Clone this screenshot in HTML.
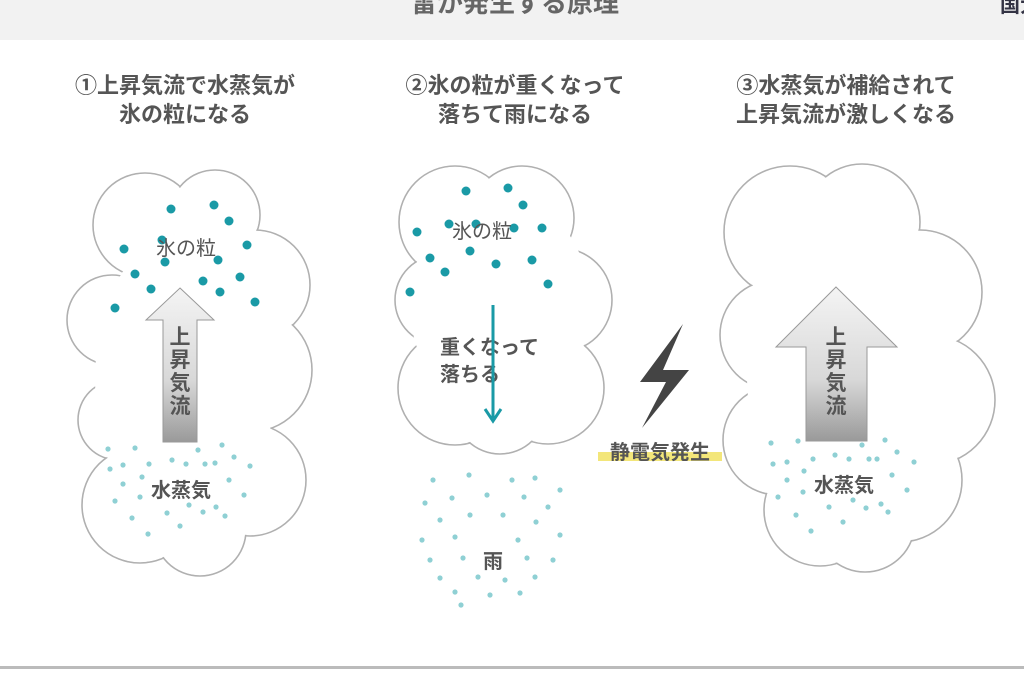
<!DOCTYPE html>
<html><head><meta charset="utf-8"><style>
html,body{margin:0;padding:0;background:#fff;}
body{width:1024px;height:687px;overflow:hidden;position:relative;font-family:"Liberation Sans","Noto Sans CJK JP",sans-serif;}
</style></head><body>
<svg width="1024" height="687" viewBox="0 0 1024 687" xmlns="http://www.w3.org/2000/svg" style="font-family:'Liberation Sans','Noto Sans CJK JP',sans-serif">
<defs>
<linearGradient id="g" x1="0" y1="0" x2="0" y2="1"><stop offset="0" stop-color="#f4f4f4"/><stop offset="0.6" stop-color="#d8d8d8"/><stop offset="1" stop-color="#9a9a9a"/></linearGradient>
</defs>
<rect x="0" y="0" width="1024" height="40" fill="#f2f2f2"/>
<text x="515" y="12" text-anchor="middle" font-size="26" font-weight="bold" fill="#666">雷が発生する原理</text>
<text x="1000" y="12" font-size="20" fill="#334" font-weight="bold">国大</text>
<rect x="0" y="666" width="1024" height="3" fill="#bbb"/>

<g font-size="22" font-weight="bold" fill="#555" text-anchor="middle">
<text x="185" y="93">①上昇気流で水蒸気が</text><text x="185" y="122">氷の粒になる</text>
<text x="515" y="93">②氷の粒が重くなって</text><text x="515" y="122">落ちて雨になる</text>
<text x="846" y="93">③水蒸気が補給されて</text><text x="846" y="122">上昇気流が激しくなる</text>
</g>

<!-- cloud1 -->
<g stroke="#b0b0b0" stroke-width="1.6" fill="#fff">
<circle cx="145" cy="225" r="52"/><circle cx="215" cy="215" r="45"/><circle cx="255" cy="285" r="55"/><circle cx="112" cy="320" r="45"/><circle cx="250" cy="370" r="62"/><circle cx="118" cy="420" r="40"/><circle cx="250" cy="480" r="56"/><circle cx="140" cy="505" r="58"/><circle cx="200" cy="530" r="46"/>
</g>
<g fill="#fff">
<circle cx="145" cy="225" r="51"/><circle cx="215" cy="215" r="44"/><circle cx="255" cy="285" r="54"/><circle cx="112" cy="320" r="44"/><circle cx="250" cy="370" r="61"/><circle cx="118" cy="420" r="39"/><circle cx="250" cy="480" r="55"/><circle cx="140" cy="505" r="57"/><circle cx="200" cy="530" r="45"/>
<ellipse cx="185" cy="380" rx="90" ry="150"/>
</g>
<!-- cloud2 -->
<g stroke="#b0b0b0" stroke-width="1.6" fill="#fff">
<circle cx="455" cy="222" r="56"/><circle cx="522" cy="218" r="52"/><circle cx="560" cy="300" r="52"/><circle cx="440" cy="300" r="45"/><circle cx="455" cy="388" r="57"/><circle cx="548" cy="388" r="56"/><circle cx="500" cy="408" r="46"/>
</g>
<g fill="#fff">
<circle cx="455" cy="222" r="55"/><circle cx="522" cy="218" r="51"/><circle cx="560" cy="300" r="51"/><circle cx="440" cy="300" r="44"/><circle cx="455" cy="388" r="56"/><circle cx="548" cy="388" r="55"/><circle cx="500" cy="408" r="45"/>
<ellipse cx="500" cy="305" rx="90" ry="110"/>
</g>
<!-- cloud3 -->
<g stroke="#b0b0b0" stroke-width="1.6" fill="#fff">
<circle cx="790" cy="232" r="66"/><circle cx="862" cy="222" r="58"/><circle cx="920" cy="292" r="62"/><circle cx="775" cy="335" r="55"/><circle cx="930" cy="400" r="65"/><circle cx="778" cy="440" r="55"/><circle cx="900" cy="480" r="62"/><circle cx="820" cy="510" r="56"/><circle cx="865" cy="522" r="50"/>
</g>
<g fill="#fff">
<circle cx="790" cy="232" r="65"/><circle cx="862" cy="222" r="57"/><circle cx="920" cy="292" r="61"/><circle cx="775" cy="335" r="54"/><circle cx="930" cy="400" r="64"/><circle cx="778" cy="440" r="54"/><circle cx="900" cy="480" r="61"/><circle cx="820" cy="510" r="55"/><circle cx="865" cy="522" r="49"/>
<ellipse cx="852" cy="375" rx="105" ry="160"/>
</g>

<!-- arrows -->
<polygon points="180,288 214,320 197,320 197,442 163,442 163,320 146,320" fill="url(#g)" stroke="#999" stroke-width="1"/>
<polygon points="836,287 897,347 867,347 867,441 806,441 806,347 776,347" fill="url(#g)" stroke="#999" stroke-width="1"/>
<g font-size="21" font-weight="bold" fill="#555" text-anchor="middle">
<text x="180" y="344">上</text><text x="180" y="367">昇</text><text x="180" y="390">気</text><text x="180" y="413">流</text>
<text x="836" y="344">上</text><text x="836" y="367">昇</text><text x="836" y="390">気</text><text x="836" y="413">流</text>
</g>

<!-- ice dots -->
<g fill="#1a9aa6">
<circle cx="171" cy="209" r="4.5"/><circle cx="214" cy="205" r="4.5"/><circle cx="229" cy="221" r="4.5"/><circle cx="124" cy="249" r="4.5"/><circle cx="247" cy="245" r="4.5"/><circle cx="162" cy="240" r="4.5"/><circle cx="165" cy="262" r="4.5"/><circle cx="218" cy="260" r="4.5"/><circle cx="135" cy="274" r="4.5"/><circle cx="151" cy="289" r="4.5"/><circle cx="203" cy="281" r="4.5"/><circle cx="240" cy="277" r="4.5"/><circle cx="115" cy="308" r="4.5"/><circle cx="255" cy="302" r="4.5"/><circle cx="220" cy="292" r="4.5"/>
<circle cx="466" cy="191" r="4.5"/><circle cx="508" cy="188" r="4.5"/><circle cx="523" cy="205" r="4.5"/><circle cx="417" cy="232" r="4.5"/><circle cx="449" cy="224" r="4.5"/><circle cx="476" cy="224" r="4.5"/><circle cx="514" cy="228" r="4.5"/><circle cx="542" cy="228" r="4.5"/><circle cx="430" cy="258" r="4.5"/><circle cx="470" cy="251" r="4.5"/><circle cx="496" cy="264" r="4.5"/><circle cx="532" cy="260" r="4.5"/><circle cx="445" cy="272" r="4.5"/><circle cx="548" cy="284" r="4.5"/><circle cx="410" cy="292" r="4.5"/>
</g>
<g font-size="20" fill="#555" text-anchor="middle">
<text x="186" y="255">氷の粒</text><text x="482" y="238">氷の粒</text>
</g>

<!-- vapor dots -->
<g fill="#8fd0d4">
<circle cx="108" cy="449" r="2.6"/><circle cx="135" cy="448" r="2.6"/><circle cx="198" cy="450" r="2.6"/><circle cx="222" cy="445" r="2.6"/><circle cx="234" cy="457" r="2.6"/><circle cx="110" cy="469" r="2.6"/><circle cx="123" cy="465" r="2.6"/><circle cx="149" cy="464" r="2.6"/><circle cx="172" cy="460" r="2.6"/><circle cx="186" cy="464" r="2.6"/><circle cx="205" cy="464" r="2.6"/><circle cx="215" cy="463" r="2.6"/><circle cx="250" cy="466" r="2.6"/><circle cx="142" cy="477" r="2.6"/><circle cx="123" cy="484" r="2.6"/><circle cx="229" cy="480" r="2.6"/><circle cx="115" cy="501" r="2.6"/><circle cx="140" cy="497" r="2.6"/><circle cx="244" cy="495" r="2.6"/><circle cx="216" cy="507" r="2.6"/><circle cx="189" cy="505" r="2.6"/><circle cx="167" cy="513" r="2.6"/><circle cx="203" cy="512" r="2.6"/><circle cx="225" cy="516" r="2.6"/><circle cx="132" cy="518" r="2.6"/><circle cx="180" cy="526" r="2.6"/><circle cx="148" cy="534" r="2.6"/>
<circle cx="771" cy="443" r="2.6"/><circle cx="798" cy="441" r="2.6"/><circle cx="862" cy="445" r="2.6"/><circle cx="885" cy="440" r="2.6"/><circle cx="897" cy="452" r="2.6"/><circle cx="773" cy="464" r="2.6"/><circle cx="787" cy="462" r="2.6"/><circle cx="813" cy="459" r="2.6"/><circle cx="835" cy="455" r="2.6"/><circle cx="849" cy="459" r="2.6"/><circle cx="869" cy="459" r="2.6"/><circle cx="877" cy="459" r="2.6"/><circle cx="914" cy="462" r="2.6"/><circle cx="804" cy="471" r="2.6"/><circle cx="787" cy="480" r="2.6"/><circle cx="892" cy="475" r="2.6"/><circle cx="778" cy="497" r="2.6"/><circle cx="803" cy="492" r="2.6"/><circle cx="907" cy="490" r="2.6"/><circle cx="881" cy="504" r="2.6"/><circle cx="853" cy="500" r="2.6"/><circle cx="829" cy="507" r="2.6"/><circle cx="866" cy="508" r="2.6"/><circle cx="888" cy="512" r="2.6"/><circle cx="796" cy="515" r="2.6"/><circle cx="843" cy="522" r="2.6"/><circle cx="811" cy="531" r="2.6"/>
<circle cx="433" cy="480" r="2.6"/><circle cx="469" cy="475" r="2.6"/><circle cx="512" cy="480" r="2.6"/><circle cx="535" cy="478" r="2.6"/><circle cx="560" cy="490" r="2.6"/><circle cx="425" cy="503" r="2.6"/><circle cx="452" cy="498" r="2.6"/><circle cx="487" cy="495" r="2.6"/><circle cx="524" cy="497" r="2.6"/><circle cx="548" cy="507" r="2.6"/><circle cx="440" cy="520" r="2.6"/><circle cx="470" cy="515" r="2.6"/><circle cx="503" cy="515" r="2.6"/><circle cx="536" cy="522" r="2.6"/><circle cx="560" cy="535" r="2.6"/><circle cx="422" cy="540" r="2.6"/><circle cx="455" cy="537" r="2.6"/><circle cx="518" cy="540" r="2.6"/><circle cx="430" cy="560" r="2.6"/><circle cx="463" cy="558" r="2.6"/><circle cx="527" cy="558" r="2.6"/><circle cx="553" cy="560" r="2.6"/><circle cx="440" cy="578" r="2.6"/><circle cx="478" cy="577" r="2.6"/><circle cx="505" cy="580" r="2.6"/><circle cx="535" cy="577" r="2.6"/><circle cx="455" cy="592" r="2.6"/><circle cx="490" cy="595" r="2.6"/><circle cx="520" cy="593" r="2.6"/><circle cx="461" cy="605" r="2.6"/>
</g>
<g font-size="20" font-weight="bold" fill="#555" text-anchor="middle">
<text x="181" y="497">水蒸気</text><text x="844" y="492">水蒸気</text><text x="493" y="568">雨</text>
<text x="440" y="354" text-anchor="start">重くなって</text><text x="440" y="381" text-anchor="start">落ちる</text>
</g>

<!-- teal arrow -->
<line x1="493" y1="305" x2="493" y2="418" stroke="#1a9aa6" stroke-width="3"/>
<polyline points="485,409 493,421 501,409" fill="none" stroke="#1a9aa6" stroke-width="3"/>

<!-- bolt -->
<polygon points="683,324 640,382 666,382 642,428 689,370 663,370" fill="#444"/>
<rect x="598" y="452" width="124" height="9" fill="#f3e67a"/>
<text x="660" y="459" text-anchor="middle" font-size="20" font-weight="bold" fill="#555">静電気発生</text>
</svg>
</body></html>
